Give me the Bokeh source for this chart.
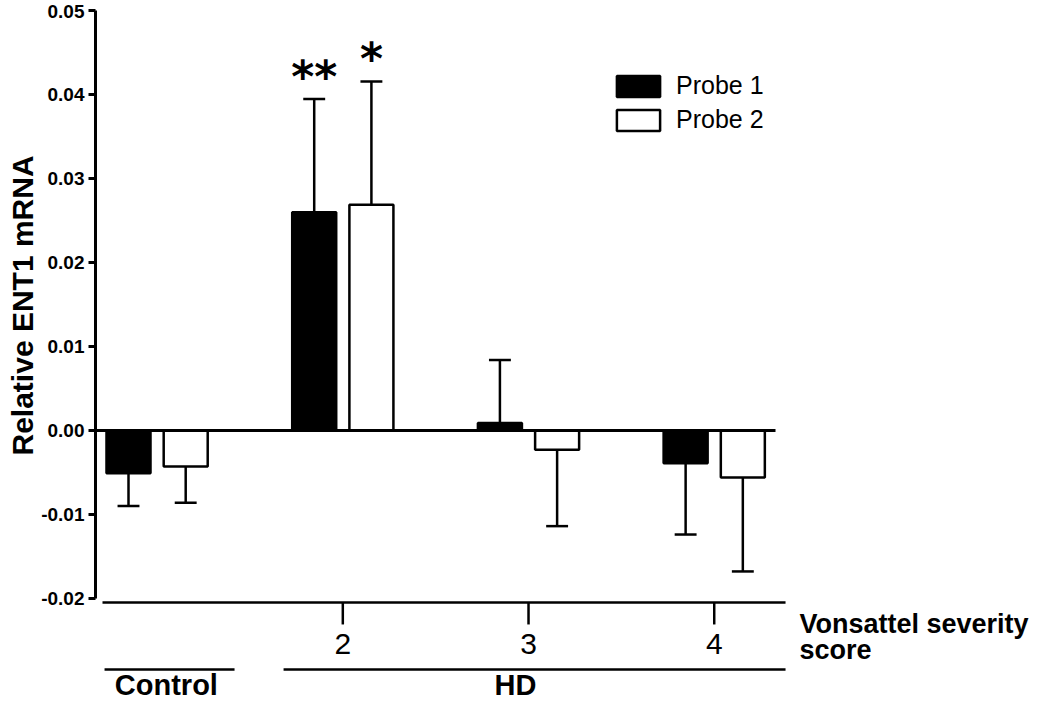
import numpy as np
from bokeh.plotting import figure
from bokeh.models import (Range1d, FixedTicker, PrintfTickFormatter, Legend, LegendItem,
                          ColumnDataSource, Title)
from bokeh.core.properties import value
from bokeh.embed import file_html
from bokeh.resources import INLINE

# ---------------- data ----------------
groups = ["Control", "HD", "HD", "HD"]
severity = ["", "2", "3", "4"]
probe1_mean = [-0.0051, 0.0260, 0.0009, -0.0039]
probe1_sem = [0.0039, 0.0135, 0.0075, 0.0085]
probe2_mean = [-0.0043, 0.0269, -0.0023, -0.0056]
probe2_sem = [0.0043, 0.0147, 0.0091, 0.0112]
probe1_sig = ["", "**", "", ""]
probe2_sig = ["", "*", "", ""]
y_ticks = [-0.02, -0.01, 0.0, 0.01, 0.02, 0.03, 0.04, 0.05]
series_names = ["Probe 1", "Probe 2"]
y_label = "Relative ENT1 mRNA"
x_title = ["Vonsattel severity", "score"]
group_names = ["Control", "HD"]

# ---------------- layout / style ----------------
FONT = "Liberation Sans"
W, H = 1034, 703
LEFT = 95
BAR_W = 0.237
OFF = 0.154
CAP = 0.059
LW = 2.5


def shift(px):
    # compensate the renderer's alphabetic-baseline placement (in pixels)
    return -round(0.37 * px)


pos = np.arange(1, len(groups) + 1, dtype=float)

p = figure(width=W, height=H, output_backend="svg", toolbar_location=None,
           x_range=Range1d(0.6683, 5.7246), y_range=Range1d(-0.03254, 0.05125),
           x_axis_location=None, min_border_left=LEFT, min_border_right=0,
           min_border_top=0, min_border_bottom=0, tools="")
p.outline_line_color = None
p.grid.visible = False
p.background_fill_color = "white"

ax = p.yaxis[0]
ax.ticker = FixedTicker(ticks=y_ticks)
ax.formatter = PrintfTickFormatter(format="%.2f")
ax.bounds = (min(y_ticks), max(y_ticks))
ax.axis_line_width = 3
ax.axis_line_color = "black"
ax.major_tick_line_width = 3
ax.major_tick_line_color = "black"
ax.major_tick_out = 7
ax.major_tick_in = 0
ax.minor_tick_out = 0
ax.minor_tick_in = 0
ax.major_label_text_font = FONT
ax.major_label_text_font_style = "bold"
ax.major_label_text_font_size = "19px"
ax.major_label_text_color = "black"
ax.major_label_standoff = 4

# y-axis title (left side, positioned along the axis extent)
p.add_layout(Title(text=y_label, align="left", offset=248, text_font=FONT,
                   text_font_style="bold", text_font_size="30px", text_color="black",
                   standoff=0), "left")

# bars
src1 = ColumnDataSource(dict(x=pos - OFF, top=probe1_mean))
src2 = ColumnDataSource(dict(x=pos + OFF, top=probe2_mean))
r1 = p.vbar(x="x", top="top", bottom=0, width=BAR_W, fill_color="black",
            line_color="black", line_width=LW, source=src1)
r2 = p.vbar(x="x", top="top", bottom=0, width=BAR_W, fill_color="white",
            line_color="black", line_width=LW, source=src2)

# error bars (one-sided, away from zero)
ends = []
for means, sems, xs in ((probe1_mean, probe1_sem, pos - OFF), (probe2_mean, probe2_sem, pos + OFF)):
    m = np.array(means)
    s = np.array(sems)
    e = m + np.where(m >= 0, 1, -1) * s
    ends.append(e)
    p.segment(x0=xs, y0=m, x1=xs, y1=e, line_width=LW, line_color="black")
    p.segment(x0=xs - CAP, y0=e, x1=xs + CAP, y1=e, line_width=LW, line_color="black")

# zero line
p.segment(x0=[p.x_range.start], y0=[0], x1=[4.33], y1=[0], line_width=3, line_color="black")

# significance stars
for sig, xs, e in ((probe1_sig, pos - OFF, ends[0]), (probe2_sig, pos + OFF, ends[1])):
    p.text(x=xs, y=e, text=sig, text_font=value("DejaVu Sans"), text_font_style="bold",
           text_font_size="44px", text_align="center", text_baseline="alphabetic",
           y_offset=-23, text_color="black")

# severity axis (below bars)
AX_Y = -0.0205
p.segment(x0=[0.706], y0=[AX_Y], x1=[4.384], y1=[AX_Y], line_width=LW, line_color="black")
p.segment(x0=pos[1:], y0=[AX_Y] * 3, x1=pos[1:], y1=[-0.02312] * 3, line_width=LW,
          line_color="black")
p.text(x=pos[1:], y=[-0.02670] * 3, text=severity[1:], text_font=value(FONT),
       text_font_size="30px", text_align="center", text_baseline="alphabetic",
       y_offset=shift(30), text_color="black")
p.text(x=[4.459, 4.459], y=[-0.02420, -0.02741], text=x_title, text_font=value(FONT),
       text_font_style="bold", text_font_size="27px", text_align="left",
       text_baseline="alphabetic", y_offset=shift(27), text_color="black")

# group underlines and names
UL = -0.02849
p.segment(x0=[0.717, 1.681], y0=[UL, UL], x1=[1.417, 4.384], y1=[UL, UL],
          line_width=LW, line_color="black")
p.text(x=[1.05, 2.93], y=[-0.03159, -0.03159], text=group_names, text_font=value(FONT),
       text_font_style="bold", text_font_size="29px", text_align="center",
       text_baseline="alphabetic", y_offset=shift(29), text_color="black")

legend = Legend(items=[LegendItem(label=series_names[0], renderers=[r1]),
                       LegendItem(label=series_names[1], renderers=[r2])],
                location=(516, 569), glyph_width=54, glyph_height=26, label_standoff=11,
                spacing=5, padding=0, margin=0, border_line_color=None,
                background_fill_alpha=0, label_text_font=FONT, label_text_font_size="25px",
                label_text_color="black", label_height=26)
p.add_layout(legend)

open("out.html", "w").write(file_html(p, INLINE))
